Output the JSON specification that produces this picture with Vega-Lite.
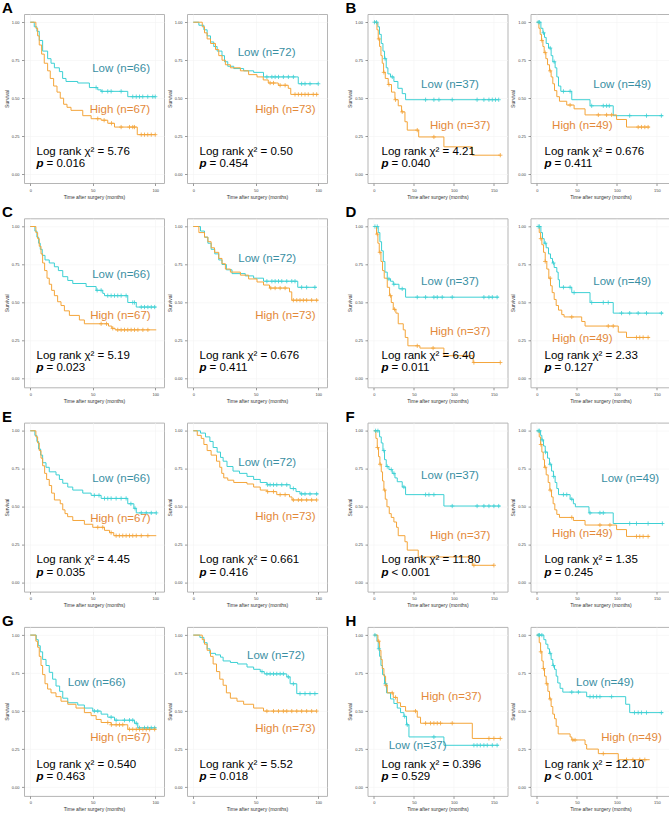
{
"$schema":"https://vega.github.io/schema/vega-lite/v6.json",
"padding":{"left":1,"top":0,"right":0,"bottom":0},
"config":{
 "view":{"stroke":"#b5b5b5","strokeWidth":1},
 "axis":{"domain":false,"tickColor":"#555","tickSize":2.5,"tickWidth":0.6,"labelFontSize":4,"labelColor":"#444","labelFont":"Liberation Sans","titleFont":"Liberation Sans","titleFontSize":5,"titleFontWeight":"normal","titleColor":"#333","labelPadding":2.5,"titlePadding":2,"grid":true,"gridColor":"#f3f3f3","gridWidth":0.6,"labelOverlap":false,"labelFlush":false},
 "text":{"font":"Liberation Sans","fontSize":11.5,"align":"left","baseline":"middle","color":"#000"},
 "title":{"font":"Liberation Sans","fontSize":15,"fontWeight":"bold","anchor":"start","frame":"group","dx":-22,"offset":-2,"baseline":"alphabetic","color":"#000"}
},
"datasets":{
"one":[{"k":1}],
"km":[
{"p":"A1","g":"L","t":0,"s":1},{"p":"A1","g":"L","t":3.2,"s":0.97},{"p":"A1","g":"L","t":5.3,"s":0.94},{"p":"A1","g":"L","t":7.2,"s":0.88},{"p":"A1","g":"L","t":9.9,"s":0.81},{"p":"A1","g":"L","t":13.9,"s":0.76},{"p":"A1","g":"L","t":16.6,"s":0.73},{"p":"A1","g":"L","t":19.3,"s":0.70},{"p":"A1","g":"L","t":23.3,"s":0.675},{"p":"A1","g":"L","t":25.9,"s":0.63},{"p":"A1","g":"L","t":28.6,"s":0.61},{"p":"A1","g":"L","t":38,"s":0.60},{"p":"A1","g":"L","t":47.3,"s":0.57},{"p":"A1","g":"L","t":54,"s":0.555},{"p":"A1","g":"L","t":56.7,"s":0.545},{"p":"A1","g":"L","t":78,"s":0.51},{"p":"A1","g":"L","t":100,"s":0.51},
{"p":"A1","g":"H","t":0,"s":1},{"p":"A1","g":"H","t":4.5,"s":0.96},{"p":"A1","g":"H","t":5.9,"s":0.91},{"p":"A1","g":"H","t":7.2,"s":0.85},{"p":"A1","g":"H","t":9.1,"s":0.79},{"p":"A1","g":"H","t":11.2,"s":0.73},{"p":"A1","g":"H","t":13.9,"s":0.68},{"p":"A1","g":"H","t":16,"s":0.63},{"p":"A1","g":"H","t":18.7,"s":0.58},{"p":"A1","g":"H","t":21.4,"s":0.54},{"p":"A1","g":"H","t":24,"s":0.50},{"p":"A1","g":"H","t":26.7,"s":0.46},{"p":"A1","g":"H","t":29.4,"s":0.44},{"p":"A1","g":"H","t":32.6,"s":0.42},{"p":"A1","g":"H","t":42,"s":0.385},{"p":"A1","g":"H","t":48.7,"s":0.365},{"p":"A1","g":"H","t":56.7,"s":0.355},{"p":"A1","g":"H","t":62,"s":0.335},{"p":"A1","g":"H","t":67.4,"s":0.31},{"p":"A1","g":"H","t":85.6,"s":0.26},{"p":"A1","g":"H","t":100,"s":0.26},
{"p":"A2","g":"L","t":0,"s":1},{"p":"A2","g":"L","t":4.5,"s":0.98},{"p":"A2","g":"L","t":8.5,"s":0.95},{"p":"A2","g":"L","t":11.1,"s":0.91},{"p":"A2","g":"L","t":13.8,"s":0.87},{"p":"A2","g":"L","t":16.4,"s":0.84},{"p":"A2","g":"L","t":19.1,"s":0.81},{"p":"A2","g":"L","t":23,"s":0.78},{"p":"A2","g":"L","t":25,"s":0.74},{"p":"A2","g":"L","t":27.6,"s":0.71},{"p":"A2","g":"L","t":32.4,"s":0.695},{"p":"A2","g":"L","t":40.3,"s":0.68},{"p":"A2","g":"L","t":48.3,"s":0.67},{"p":"A2","g":"L","t":56.2,"s":0.64},{"p":"A2","g":"L","t":84,"s":0.595},{"p":"A2","g":"L","t":100,"s":0.595},
{"p":"A2","g":"H","t":0,"s":1},{"p":"A2","g":"H","t":7.2,"s":0.97},{"p":"A2","g":"H","t":9,"s":0.93},{"p":"A2","g":"H","t":11.1,"s":0.89},{"p":"A2","g":"H","t":13.8,"s":0.86},{"p":"A2","g":"H","t":17.8,"s":0.82},{"p":"A2","g":"H","t":20.4,"s":0.78},{"p":"A2","g":"H","t":23,"s":0.75},{"p":"A2","g":"H","t":25.7,"s":0.72},{"p":"A2","g":"H","t":29.7,"s":0.70},{"p":"A2","g":"H","t":37.7,"s":0.68},{"p":"A2","g":"H","t":44.3,"s":0.655},{"p":"A2","g":"H","t":51,"s":0.64},{"p":"A2","g":"H","t":56,"s":0.62},{"p":"A2","g":"H","t":60,"s":0.60},{"p":"A2","g":"H","t":68,"s":0.585},{"p":"A2","g":"H","t":76,"s":0.565},{"p":"A2","g":"H","t":78,"s":0.525},{"p":"A2","g":"H","t":100,"s":0.525},
{"p":"B1","g":"L","t":0,"s":1},{"p":"B1","g":"L","t":5,"s":0.97},{"p":"B1","g":"L","t":7,"s":0.92},{"p":"B1","g":"L","t":9.2,"s":0.86},{"p":"B1","g":"L","t":11.3,"s":0.81},{"p":"B1","g":"L","t":13.3,"s":0.76},{"p":"B1","g":"L","t":15.4,"s":0.70},{"p":"B1","g":"L","t":17.5,"s":0.66},{"p":"B1","g":"L","t":20.8,"s":0.64},{"p":"B1","g":"L","t":25,"s":0.61},{"p":"B1","g":"L","t":30,"s":0.565},{"p":"B1","g":"L","t":35.4,"s":0.53},{"p":"B1","g":"L","t":39.6,"s":0.49},{"p":"B1","g":"L","t":156,"s":0.49},
{"p":"B1","g":"H","t":0,"s":1},{"p":"B1","g":"H","t":3.8,"s":0.95},{"p":"B1","g":"H","t":5.4,"s":0.89},{"p":"B1","g":"H","t":7.1,"s":0.84},{"p":"B1","g":"H","t":8.8,"s":0.78},{"p":"B1","g":"H","t":10.4,"s":0.73},{"p":"B1","g":"H","t":12.1,"s":0.67},{"p":"B1","g":"H","t":14.2,"s":0.63},{"p":"B1","g":"H","t":17.9,"s":0.59},{"p":"B1","g":"H","t":22,"s":0.54},{"p":"B1","g":"H","t":26.3,"s":0.49},{"p":"B1","g":"H","t":30.4,"s":0.45},{"p":"B1","g":"H","t":34.6,"s":0.41},{"p":"B1","g":"H","t":38.8,"s":0.345},{"p":"B1","g":"H","t":41.7,"s":0.29},{"p":"B1","g":"H","t":56,"s":0.245},{"p":"B1","g":"H","t":87.5,"s":0.18},{"p":"B1","g":"H","t":123,"s":0.125},{"p":"B1","g":"H","t":158,"s":0.125},
{"p":"B2","g":"L","t":0,"s":1},{"p":"B2","g":"L","t":5,"s":0.96},{"p":"B2","g":"L","t":7.5,"s":0.93},{"p":"B2","g":"L","t":9.5,"s":0.90},{"p":"B2","g":"L","t":11.6,"s":0.86},{"p":"B2","g":"L","t":14.5,"s":0.83},{"p":"B2","g":"L","t":17.8,"s":0.78},{"p":"B2","g":"L","t":19.9,"s":0.74},{"p":"B2","g":"L","t":22.8,"s":0.70},{"p":"B2","g":"L","t":24.9,"s":0.64},{"p":"B2","g":"L","t":27,"s":0.58},{"p":"B2","g":"L","t":29.9,"s":0.545},{"p":"B2","g":"L","t":43.6,"s":0.49},{"p":"B2","g":"L","t":66.4,"s":0.45},{"p":"B2","g":"L","t":95.4,"s":0.385},{"p":"B2","g":"L","t":157.7,"s":0.385},
{"p":"B2","g":"H","t":0,"s":1},{"p":"B2","g":"H","t":2.5,"s":0.96},{"p":"B2","g":"H","t":4.1,"s":0.92},{"p":"B2","g":"H","t":5.8,"s":0.88},{"p":"B2","g":"H","t":7.5,"s":0.84},{"p":"B2","g":"H","t":9.1,"s":0.80},{"p":"B2","g":"H","t":11.2,"s":0.76},{"p":"B2","g":"H","t":13.3,"s":0.72},{"p":"B2","g":"H","t":15.8,"s":0.68},{"p":"B2","g":"H","t":17.8,"s":0.64},{"p":"B2","g":"H","t":19.9,"s":0.595},{"p":"B2","g":"H","t":22,"s":0.55},{"p":"B2","g":"H","t":24.9,"s":0.51},{"p":"B2","g":"H","t":28.2,"s":0.48},{"p":"B2","g":"H","t":37.3,"s":0.455},{"p":"B2","g":"H","t":46.5,"s":0.43},{"p":"B2","g":"H","t":60.2,"s":0.39},{"p":"B2","g":"H","t":99.6,"s":0.36},{"p":"B2","g":"H","t":112,"s":0.31},{"p":"B2","g":"H","t":141,"s":0.31},
{"p":"C1","g":"L","t":0,"s":1},{"p":"C1","g":"L","t":3.7,"s":0.97},{"p":"C1","g":"L","t":5.3,"s":0.93},{"p":"C1","g":"L","t":6.7,"s":0.89},{"p":"C1","g":"L","t":8,"s":0.85},{"p":"C1","g":"L","t":9.6,"s":0.81},{"p":"C1","g":"L","t":11.8,"s":0.78},{"p":"C1","g":"L","t":15.2,"s":0.76},{"p":"C1","g":"L","t":19.3,"s":0.735},{"p":"C1","g":"L","t":22.5,"s":0.71},{"p":"C1","g":"L","t":26,"s":0.67},{"p":"C1","g":"L","t":30,"s":0.645},{"p":"C1","g":"L","t":34,"s":0.625},{"p":"C1","g":"L","t":44.7,"s":0.605},{"p":"C1","g":"L","t":52.7,"s":0.58},{"p":"C1","g":"L","t":58,"s":0.56},{"p":"C1","g":"L","t":59.4,"s":0.545},{"p":"C1","g":"L","t":78,"s":0.50},{"p":"C1","g":"L","t":84.8,"s":0.47},{"p":"C1","g":"L","t":100.8,"s":0.47},
{"p":"C1","g":"H","t":0,"s":1},{"p":"C1","g":"H","t":4.5,"s":0.96},{"p":"C1","g":"H","t":5.9,"s":0.92},{"p":"C1","g":"H","t":7.2,"s":0.87},{"p":"C1","g":"H","t":8.6,"s":0.82},{"p":"C1","g":"H","t":9.9,"s":0.76},{"p":"C1","g":"H","t":11.5,"s":0.71},{"p":"C1","g":"H","t":13.4,"s":0.66},{"p":"C1","g":"H","t":15.2,"s":0.62},{"p":"C1","g":"H","t":17.1,"s":0.58},{"p":"C1","g":"H","t":19.3,"s":0.545},{"p":"C1","g":"H","t":21.9,"s":0.505},{"p":"C1","g":"H","t":24.6,"s":0.48},{"p":"C1","g":"H","t":27.3,"s":0.445},{"p":"C1","g":"H","t":31.3,"s":0.415},{"p":"C1","g":"H","t":39.3,"s":0.385},{"p":"C1","g":"H","t":43.3,"s":0.36},{"p":"C1","g":"H","t":62.6,"s":0.345},{"p":"C1","g":"H","t":65.2,"s":0.33},{"p":"C1","g":"H","t":67.9,"s":0.32},{"p":"C1","g":"H","t":100.8,"s":0.32},
{"p":"C2","g":"L","t":0,"s":1},{"p":"C2","g":"L","t":5.8,"s":0.97},{"p":"C2","g":"L","t":9,"s":0.93},{"p":"C2","g":"L","t":11.7,"s":0.89},{"p":"C2","g":"L","t":14.3,"s":0.85},{"p":"C2","g":"L","t":17.2,"s":0.82},{"p":"C2","g":"L","t":20.4,"s":0.78},{"p":"C2","g":"L","t":23,"s":0.75},{"p":"C2","g":"L","t":26.5,"s":0.715},{"p":"C2","g":"L","t":31,"s":0.69},{"p":"C2","g":"L","t":41.6,"s":0.675},{"p":"C2","g":"L","t":48.3,"s":0.66},{"p":"C2","g":"L","t":56.2,"s":0.64},{"p":"C2","g":"L","t":83.6,"s":0.60},{"p":"C2","g":"L","t":98.7,"s":0.60},
{"p":"C2","g":"H","t":0,"s":1},{"p":"C2","g":"H","t":4.5,"s":0.96},{"p":"C2","g":"H","t":9,"s":0.93},{"p":"C2","g":"H","t":11.7,"s":0.90},{"p":"C2","g":"H","t":14.3,"s":0.86},{"p":"C2","g":"H","t":17,"s":0.83},{"p":"C2","g":"H","t":20.4,"s":0.79},{"p":"C2","g":"H","t":23,"s":0.755},{"p":"C2","g":"H","t":25.7,"s":0.72},{"p":"C2","g":"H","t":29.7,"s":0.70},{"p":"C2","g":"H","t":37.7,"s":0.68},{"p":"C2","g":"H","t":44.3,"s":0.655},{"p":"C2","g":"H","t":51,"s":0.635},{"p":"C2","g":"H","t":56.2,"s":0.615},{"p":"C2","g":"H","t":61,"s":0.595},{"p":"C2","g":"H","t":77,"s":0.57},{"p":"C2","g":"H","t":78.8,"s":0.515},{"p":"C2","g":"H","t":100,"s":0.515},
{"p":"D1","g":"L","t":0,"s":1},{"p":"D1","g":"L","t":5.4,"s":0.96},{"p":"D1","g":"L","t":7.5,"s":0.90},{"p":"D1","g":"L","t":9.6,"s":0.84},{"p":"D1","g":"L","t":11.7,"s":0.77},{"p":"D1","g":"L","t":13.8,"s":0.70},{"p":"D1","g":"L","t":16.7,"s":0.655},{"p":"D1","g":"L","t":20.8,"s":0.64},{"p":"D1","g":"L","t":24.2,"s":0.62},{"p":"D1","g":"L","t":31.3,"s":0.59},{"p":"D1","g":"L","t":39.6,"s":0.535},{"p":"D1","g":"L","t":156,"s":0.535},
{"p":"D1","g":"H","t":0,"s":1},{"p":"D1","g":"H","t":3.3,"s":0.95},{"p":"D1","g":"H","t":5,"s":0.89},{"p":"D1","g":"H","t":6.7,"s":0.83},{"p":"D1","g":"H","t":8.8,"s":0.77},{"p":"D1","g":"H","t":10.8,"s":0.71},{"p":"D1","g":"H","t":12.9,"s":0.66},{"p":"D1","g":"H","t":16.7,"s":0.60},{"p":"D1","g":"H","t":19.6,"s":0.545},{"p":"D1","g":"H","t":21.7,"s":0.50},{"p":"D1","g":"H","t":24.2,"s":0.455},{"p":"D1","g":"H","t":27.5,"s":0.43},{"p":"D1","g":"H","t":30.4,"s":0.36},{"p":"D1","g":"H","t":36.7,"s":0.32},{"p":"D1","g":"H","t":39.2,"s":0.27},{"p":"D1","g":"H","t":42.5,"s":0.215},{"p":"D1","g":"H","t":57.5,"s":0.20},{"p":"D1","g":"H","t":87.5,"s":0.15},{"p":"D1","g":"H","t":124,"s":0.105},{"p":"D1","g":"H","t":158,"s":0.105},
{"p":"D2","g":"L","t":0,"s":1},{"p":"D2","g":"L","t":5,"s":0.96},{"p":"D2","g":"L","t":7,"s":0.92},{"p":"D2","g":"L","t":9.1,"s":0.89},{"p":"D2","g":"L","t":11.6,"s":0.86},{"p":"D2","g":"L","t":14.5,"s":0.82},{"p":"D2","g":"L","t":17,"s":0.79},{"p":"D2","g":"L","t":19.5,"s":0.76},{"p":"D2","g":"L","t":21.6,"s":0.73},{"p":"D2","g":"L","t":24.9,"s":0.70},{"p":"D2","g":"L","t":26.6,"s":0.65},{"p":"D2","g":"L","t":28.2,"s":0.60},{"p":"D2","g":"L","t":43.6,"s":0.565},{"p":"D2","g":"L","t":66.4,"s":0.50},{"p":"D2","g":"L","t":95.4,"s":0.43},{"p":"D2","g":"L","t":157.7,"s":0.43},
{"p":"D2","g":"H","t":0,"s":1},{"p":"D2","g":"H","t":2.9,"s":0.96},{"p":"D2","g":"H","t":4.6,"s":0.92},{"p":"D2","g":"H","t":6.2,"s":0.88},{"p":"D2","g":"H","t":8.3,"s":0.83},{"p":"D2","g":"H","t":10.4,"s":0.77},{"p":"D2","g":"H","t":12.4,"s":0.72},{"p":"D2","g":"H","t":14.9,"s":0.66},{"p":"D2","g":"H","t":17,"s":0.61},{"p":"D2","g":"H","t":19.1,"s":0.565},{"p":"D2","g":"H","t":21.6,"s":0.52},{"p":"D2","g":"H","t":24.1,"s":0.48},{"p":"D2","g":"H","t":27,"s":0.45},{"p":"D2","g":"H","t":31.1,"s":0.42},{"p":"D2","g":"H","t":34,"s":0.405},{"p":"D2","g":"H","t":56,"s":0.375},{"p":"D2","g":"H","t":60.2,"s":0.345},{"p":"D2","g":"H","t":101.7,"s":0.305},{"p":"D2","g":"H","t":112,"s":0.27},{"p":"D2","g":"H","t":141,"s":0.27},
{"p":"E1","g":"L","t":0,"s":1},{"p":"E1","g":"L","t":3.7,"s":0.97},{"p":"E1","g":"L","t":5.3,"s":0.93},{"p":"E1","g":"L","t":6.7,"s":0.88},{"p":"E1","g":"L","t":8.3,"s":0.84},{"p":"E1","g":"L","t":9.9,"s":0.79},{"p":"E1","g":"L","t":12.6,"s":0.76},{"p":"E1","g":"L","t":15.2,"s":0.73},{"p":"E1","g":"L","t":20.6,"s":0.71},{"p":"E1","g":"L","t":23.3,"s":0.68},{"p":"E1","g":"L","t":26,"s":0.655},{"p":"E1","g":"L","t":30,"s":0.63},{"p":"E1","g":"L","t":34,"s":0.61},{"p":"E1","g":"L","t":42,"s":0.59},{"p":"E1","g":"L","t":48.7,"s":0.575},{"p":"E1","g":"L","t":56.7,"s":0.555},{"p":"E1","g":"L","t":78,"s":0.52},{"p":"E1","g":"L","t":82.9,"s":0.49},{"p":"E1","g":"L","t":84.8,"s":0.46},{"p":"E1","g":"L","t":100.8,"s":0.46},
{"p":"E1","g":"H","t":0,"s":1},{"p":"E1","g":"H","t":4.5,"s":0.96},{"p":"E1","g":"H","t":5.9,"s":0.92},{"p":"E1","g":"H","t":7.2,"s":0.87},{"p":"E1","g":"H","t":8.6,"s":0.82},{"p":"E1","g":"H","t":9.9,"s":0.77},{"p":"E1","g":"H","t":11.5,"s":0.72},{"p":"E1","g":"H","t":13.1,"s":0.68},{"p":"E1","g":"H","t":15.2,"s":0.64},{"p":"E1","g":"H","t":17.1,"s":0.59},{"p":"E1","g":"H","t":19.3,"s":0.545},{"p":"E1","g":"H","t":24,"s":0.52},{"p":"E1","g":"H","t":26,"s":0.48},{"p":"E1","g":"H","t":27.8,"s":0.455},{"p":"E1","g":"H","t":29.9,"s":0.435},{"p":"E1","g":"H","t":34,"s":0.41},{"p":"E1","g":"H","t":43.3,"s":0.385},{"p":"E1","g":"H","t":50,"s":0.365},{"p":"E1","g":"H","t":59.4,"s":0.345},{"p":"E1","g":"H","t":63.4,"s":0.33},{"p":"E1","g":"H","t":66.8,"s":0.31},{"p":"E1","g":"H","t":100.8,"s":0.31},
{"p":"E2","g":"L","t":0,"s":1},{"p":"E2","g":"L","t":5.8,"s":0.985},{"p":"E2","g":"L","t":9.8,"s":0.96},{"p":"E2","g":"L","t":13.3,"s":0.93},{"p":"E2","g":"L","t":15.9,"s":0.89},{"p":"E2","g":"L","t":19.1,"s":0.86},{"p":"E2","g":"L","t":21.8,"s":0.825},{"p":"E2","g":"L","t":23.9,"s":0.80},{"p":"E2","g":"L","t":27,"s":0.765},{"p":"E2","g":"L","t":31.8,"s":0.735},{"p":"E2","g":"L","t":37,"s":0.72},{"p":"E2","g":"L","t":43,"s":0.70},{"p":"E2","g":"L","t":48.3,"s":0.68},{"p":"E2","g":"L","t":53.6,"s":0.66},{"p":"E2","g":"L","t":58.9,"s":0.645},{"p":"E2","g":"L","t":77.5,"s":0.62},{"p":"E2","g":"L","t":82.2,"s":0.60},{"p":"E2","g":"L","t":85.4,"s":0.585},{"p":"E2","g":"L","t":100,"s":0.585},
{"p":"E2","g":"H","t":0,"s":1},{"p":"E2","g":"H","t":3.2,"s":0.97},{"p":"E2","g":"H","t":6.4,"s":0.95},{"p":"E2","g":"H","t":8.5,"s":0.91},{"p":"E2","g":"H","t":11.1,"s":0.87},{"p":"E2","g":"H","t":14.3,"s":0.84},{"p":"E2","g":"H","t":18.6,"s":0.80},{"p":"E2","g":"H","t":21.2,"s":0.76},{"p":"E2","g":"H","t":22.8,"s":0.72},{"p":"E2","g":"H","t":24.4,"s":0.69},{"p":"E2","g":"H","t":27.6,"s":0.675},{"p":"E2","g":"H","t":32.4,"s":0.66},{"p":"E2","g":"H","t":43,"s":0.65},{"p":"E2","g":"H","t":48.3,"s":0.63},{"p":"E2","g":"H","t":53.6,"s":0.61},{"p":"E2","g":"H","t":58.9,"s":0.60},{"p":"E2","g":"H","t":66.8,"s":0.58},{"p":"E2","g":"H","t":77,"s":0.565},{"p":"E2","g":"H","t":79,"s":0.545},{"p":"E2","g":"H","t":98.7,"s":0.545},
{"p":"F1","g":"L","t":0,"s":1},{"p":"F1","g":"L","t":7.1,"s":0.96},{"p":"F1","g":"L","t":9.2,"s":0.92},{"p":"F1","g":"L","t":11.3,"s":0.87},{"p":"F1","g":"L","t":13.3,"s":0.81},{"p":"F1","g":"L","t":15.4,"s":0.765},{"p":"F1","g":"L","t":18.8,"s":0.745},{"p":"F1","g":"L","t":22.9,"s":0.72},{"p":"F1","g":"L","t":26.3,"s":0.69},{"p":"F1","g":"L","t":29.2,"s":0.665},{"p":"F1","g":"L","t":35.4,"s":0.63},{"p":"F1","g":"L","t":39.6,"s":0.58},{"p":"F1","g":"L","t":87.5,"s":0.505},{"p":"F1","g":"L","t":158,"s":0.505},
{"p":"F1","g":"H","t":0,"s":1},{"p":"F1","g":"H","t":2.5,"s":0.95},{"p":"F1","g":"H","t":4.2,"s":0.89},{"p":"F1","g":"H","t":5.8,"s":0.83},{"p":"F1","g":"H","t":7.5,"s":0.78},{"p":"F1","g":"H","t":9.2,"s":0.73},{"p":"F1","g":"H","t":10.8,"s":0.67},{"p":"F1","g":"H","t":12.5,"s":0.61},{"p":"F1","g":"H","t":14.2,"s":0.55},{"p":"F1","g":"H","t":16.3,"s":0.50},{"p":"F1","g":"H","t":19.2,"s":0.455},{"p":"F1","g":"H","t":21.7,"s":0.43},{"p":"F1","g":"H","t":25,"s":0.40},{"p":"F1","g":"H","t":28.3,"s":0.365},{"p":"F1","g":"H","t":30.4,"s":0.31},{"p":"F1","g":"H","t":38.8,"s":0.27},{"p":"F1","g":"H","t":41.7,"s":0.215},{"p":"F1","g":"H","t":55.4,"s":0.17},{"p":"F1","g":"H","t":123,"s":0.115},{"p":"F1","g":"H","t":150,"s":0.115},
{"p":"F2","g":"L","t":0,"s":1},{"p":"F2","g":"L","t":4.6,"s":0.97},{"p":"F2","g":"L","t":6.2,"s":0.94},{"p":"F2","g":"L","t":8.3,"s":0.90},{"p":"F2","g":"L","t":10.4,"s":0.86},{"p":"F2","g":"L","t":13.3,"s":0.82},{"p":"F2","g":"L","t":15.8,"s":0.78},{"p":"F2","g":"L","t":18.3,"s":0.735},{"p":"F2","g":"L","t":20.7,"s":0.70},{"p":"F2","g":"L","t":22.8,"s":0.66},{"p":"F2","g":"L","t":24.9,"s":0.62},{"p":"F2","g":"L","t":27,"s":0.58},{"p":"F2","g":"L","t":41.5,"s":0.55},{"p":"F2","g":"L","t":45.6,"s":0.52},{"p":"F2","g":"L","t":48.1,"s":0.50},{"p":"F2","g":"L","t":65.1,"s":0.46},{"p":"F2","g":"L","t":95.4,"s":0.39},{"p":"F2","g":"L","t":157.7,"s":0.39},
{"p":"F2","g":"H","t":0,"s":1},{"p":"F2","g":"H","t":2.9,"s":0.96},{"p":"F2","g":"H","t":4.6,"s":0.91},{"p":"F2","g":"H","t":6.2,"s":0.86},{"p":"F2","g":"H","t":7.9,"s":0.81},{"p":"F2","g":"H","t":9.5,"s":0.76},{"p":"F2","g":"H","t":11.6,"s":0.71},{"p":"F2","g":"H","t":14.1,"s":0.66},{"p":"F2","g":"H","t":16.2,"s":0.61},{"p":"F2","g":"H","t":18.3,"s":0.565},{"p":"F2","g":"H","t":20.3,"s":0.52},{"p":"F2","g":"H","t":22.4,"s":0.48},{"p":"F2","g":"H","t":24.9,"s":0.45},{"p":"F2","g":"H","t":28.2,"s":0.43},{"p":"F2","g":"H","t":45.6,"s":0.41},{"p":"F2","g":"H","t":60.2,"s":0.38},{"p":"F2","g":"H","t":99.6,"s":0.35},{"p":"F2","g":"H","t":112,"s":0.305},{"p":"F2","g":"H","t":141,"s":0.305},
{"p":"G1","g":"L","t":0,"s":1},{"p":"G1","g":"L","t":4.8,"s":0.97},{"p":"G1","g":"L","t":6.4,"s":0.93},{"p":"G1","g":"L","t":8,"s":0.89},{"p":"G1","g":"L","t":9.9,"s":0.84},{"p":"G1","g":"L","t":12.6,"s":0.80},{"p":"G1","g":"L","t":15.2,"s":0.755},{"p":"G1","g":"L","t":17.9,"s":0.71},{"p":"G1","g":"L","t":20.6,"s":0.665},{"p":"G1","g":"L","t":23.5,"s":0.63},{"p":"G1","g":"L","t":26,"s":0.585},{"p":"G1","g":"L","t":30,"s":0.555},{"p":"G1","g":"L","t":38,"s":0.54},{"p":"G1","g":"L","t":43.3,"s":0.52},{"p":"G1","g":"L","t":50,"s":0.50},{"p":"G1","g":"L","t":56.7,"s":0.48},{"p":"G1","g":"L","t":62,"s":0.46},{"p":"G1","g":"L","t":67.4,"s":0.44},{"p":"G1","g":"L","t":83.4,"s":0.42},{"p":"G1","g":"L","t":86,"s":0.39},{"p":"G1","g":"L","t":100.8,"s":0.39},
{"p":"G1","g":"H","t":0,"s":1},{"p":"G1","g":"H","t":4.5,"s":0.96},{"p":"G1","g":"H","t":5.9,"s":0.92},{"p":"G1","g":"H","t":7.2,"s":0.86},{"p":"G1","g":"H","t":8.6,"s":0.80},{"p":"G1","g":"H","t":9.9,"s":0.74},{"p":"G1","g":"H","t":11.8,"s":0.68},{"p":"G1","g":"H","t":13.9,"s":0.645},{"p":"G1","g":"H","t":16.6,"s":0.62},{"p":"G1","g":"H","t":20.6,"s":0.595},{"p":"G1","g":"H","t":24.6,"s":0.565},{"p":"G1","g":"H","t":30,"s":0.545},{"p":"G1","g":"H","t":36.6,"s":0.52},{"p":"G1","g":"H","t":43.3,"s":0.49},{"p":"G1","g":"H","t":48.7,"s":0.47},{"p":"G1","g":"H","t":52.7,"s":0.445},{"p":"G1","g":"H","t":56.7,"s":0.425},{"p":"G1","g":"H","t":64.7,"s":0.41},{"p":"G1","g":"H","t":78,"s":0.38},{"p":"G1","g":"H","t":100.8,"s":0.38},
{"p":"G2","g":"L","t":0,"s":1},{"p":"G2","g":"L","t":5.3,"s":0.985},{"p":"G2","g":"L","t":8.5,"s":0.95},{"p":"G2","g":"L","t":11.1,"s":0.91},{"p":"G2","g":"L","t":13.3,"s":0.88},{"p":"G2","g":"L","t":17.8,"s":0.87},{"p":"G2","g":"L","t":21.8,"s":0.855},{"p":"G2","g":"L","t":23.9,"s":0.83},{"p":"G2","g":"L","t":29.7,"s":0.82},{"p":"G2","g":"L","t":35.5,"s":0.81},{"p":"G2","g":"L","t":43,"s":0.79},{"p":"G2","g":"L","t":48.3,"s":0.775},{"p":"G2","g":"L","t":53.6,"s":0.76},{"p":"G2","g":"L","t":56.8,"s":0.745},{"p":"G2","g":"L","t":74.8,"s":0.725},{"p":"G2","g":"L","t":77.5,"s":0.68},{"p":"G2","g":"L","t":82.8,"s":0.615},{"p":"G2","g":"L","t":100,"s":0.615},
{"p":"G2","g":"H","t":0,"s":1},{"p":"G2","g":"H","t":7.2,"s":0.97},{"p":"G2","g":"H","t":9,"s":0.94},{"p":"G2","g":"H","t":11.1,"s":0.90},{"p":"G2","g":"H","t":13.8,"s":0.86},{"p":"G2","g":"H","t":15.9,"s":0.81},{"p":"G2","g":"H","t":18.6,"s":0.76},{"p":"G2","g":"H","t":21.2,"s":0.71},{"p":"G2","g":"H","t":23.9,"s":0.67},{"p":"G2","g":"H","t":26.5,"s":0.62},{"p":"G2","g":"H","t":29.7,"s":0.585},{"p":"G2","g":"H","t":35,"s":0.565},{"p":"G2","g":"H","t":40.3,"s":0.545},{"p":"G2","g":"H","t":48.3,"s":0.52},{"p":"G2","g":"H","t":56.2,"s":0.50},{"p":"G2","g":"H","t":98.7,"s":0.50},
{"p":"H1","g":"L","t":0,"s":1},{"p":"H1","g":"L","t":3.8,"s":0.96},{"p":"H1","g":"L","t":5.4,"s":0.91},{"p":"H1","g":"L","t":7.1,"s":0.86},{"p":"H1","g":"L","t":8.8,"s":0.80},{"p":"H1","g":"L","t":10.8,"s":0.74},{"p":"H1","g":"L","t":13.3,"s":0.68},{"p":"H1","g":"L","t":15.8,"s":0.62},{"p":"H1","g":"L","t":20.8,"s":0.58},{"p":"H1","g":"L","t":25,"s":0.55},{"p":"H1","g":"L","t":29.2,"s":0.52},{"p":"H1","g":"L","t":33.3,"s":0.49},{"p":"H1","g":"L","t":37.5,"s":0.465},{"p":"H1","g":"L","t":40.8,"s":0.41},{"p":"H1","g":"L","t":43.8,"s":0.33},{"p":"H1","g":"L","t":87.5,"s":0.275},{"p":"H1","g":"L","t":156,"s":0.275},
{"p":"H1","g":"H","t":0,"s":1},{"p":"H1","g":"H","t":5,"s":0.96},{"p":"H1","g":"H","t":7.1,"s":0.90},{"p":"H1","g":"H","t":8.8,"s":0.84},{"p":"H1","g":"H","t":10.4,"s":0.78},{"p":"H1","g":"H","t":12.5,"s":0.73},{"p":"H1","g":"H","t":14.6,"s":0.67},{"p":"H1","g":"H","t":16.7,"s":0.62},{"p":"H1","g":"H","t":24.2,"s":0.59},{"p":"H1","g":"H","t":29.2,"s":0.555},{"p":"H1","g":"H","t":33.3,"s":0.53},{"p":"H1","g":"H","t":39.6,"s":0.50},{"p":"H1","g":"H","t":54.2,"s":0.46},{"p":"H1","g":"H","t":58.3,"s":0.42},{"p":"H1","g":"H","t":123,"s":0.32},{"p":"H1","g":"H","t":158,"s":0.32},
{"p":"H2","g":"L","t":0,"s":1},{"p":"H2","g":"L","t":8.7,"s":0.97},{"p":"H2","g":"L","t":11.2,"s":0.94},{"p":"H2","g":"L","t":13.7,"s":0.91},{"p":"H2","g":"L","t":15.8,"s":0.88},{"p":"H2","g":"L","t":17.8,"s":0.84},{"p":"H2","g":"L","t":19.9,"s":0.80},{"p":"H2","g":"L","t":22,"s":0.775},{"p":"H2","g":"L","t":24.1,"s":0.73},{"p":"H2","g":"L","t":26.1,"s":0.685},{"p":"H2","g":"L","t":29,"s":0.65},{"p":"H2","g":"L","t":32.4,"s":0.625},{"p":"H2","g":"L","t":62.2,"s":0.595},{"p":"H2","g":"L","t":111,"s":0.545},{"p":"H2","g":"L","t":116,"s":0.49},{"p":"H2","g":"L","t":157.7,"s":0.49},
{"p":"H2","g":"H","t":0,"s":1},{"p":"H2","g":"H","t":2.9,"s":0.95},{"p":"H2","g":"H","t":4.6,"s":0.89},{"p":"H2","g":"H","t":6.2,"s":0.83},{"p":"H2","g":"H","t":7.9,"s":0.78},{"p":"H2","g":"H","t":9.5,"s":0.73},{"p":"H2","g":"H","t":11.6,"s":0.68},{"p":"H2","g":"H","t":13.7,"s":0.63},{"p":"H2","g":"H","t":15.8,"s":0.58},{"p":"H2","g":"H","t":17.8,"s":0.53},{"p":"H2","g":"H","t":19.9,"s":0.48},{"p":"H2","g":"H","t":22,"s":0.45},{"p":"H2","g":"H","t":24.1,"s":0.40},{"p":"H2","g":"H","t":26.6,"s":0.35},{"p":"H2","g":"H","t":41.5,"s":0.33},{"p":"H2","g":"H","t":43.6,"s":0.31},{"p":"H2","g":"H","t":60.2,"s":0.28},{"p":"H2","g":"H","t":62.2,"s":0.25},{"p":"H2","g":"H","t":76.8,"s":0.22},{"p":"H2","g":"H","t":101.7,"s":0.18},{"p":"H2","g":"H","t":141,"s":0.18}
],
"cens":[
{"p":"A1","g":"L","t":52.7,"s":0.57},{"p":"A1","g":"L","t":57.5,"s":0.545},{"p":"A1","g":"L","t":62,"s":0.545},{"p":"A1","g":"L","t":64.7,"s":0.545},{"p":"A1","g":"L","t":72.7,"s":0.545},{"p":"A1","g":"L","t":82,"s":0.51},{"p":"A1","g":"L","t":84.8,"s":0.51},{"p":"A1","g":"L","t":87.4,"s":0.51},{"p":"A1","g":"L","t":90,"s":0.51},{"p":"A1","g":"L","t":94,"s":0.51},{"p":"A1","g":"L","t":98,"s":0.51},{"p":"A1","g":"L","t":100,"s":0.51},
{"p":"A1","g":"H","t":54,"s":0.365},{"p":"A1","g":"H","t":59.1,"s":0.355},{"p":"A1","g":"H","t":65,"s":0.335},{"p":"A1","g":"H","t":72.7,"s":0.31},{"p":"A1","g":"H","t":79.4,"s":0.31},{"p":"A1","g":"H","t":82,"s":0.31},{"p":"A1","g":"H","t":83.4,"s":0.31},{"p":"A1","g":"H","t":88.8,"s":0.26},{"p":"A1","g":"H","t":91.4,"s":0.26},{"p":"A1","g":"H","t":94,"s":0.26},{"p":"A1","g":"H","t":96.8,"s":0.26},{"p":"A1","g":"H","t":100,"s":0.26},
{"p":"A2","g":"L","t":58.9,"s":0.64},{"p":"A2","g":"L","t":62.9,"s":0.64},{"p":"A2","g":"L","t":65.5,"s":0.64},{"p":"A2","g":"L","t":68.2,"s":0.64},{"p":"A2","g":"L","t":72.1,"s":0.64},{"p":"A2","g":"L","t":76.1,"s":0.64},{"p":"A2","g":"L","t":80.1,"s":0.64},{"p":"A2","g":"L","t":86.7,"s":0.595},{"p":"A2","g":"L","t":89.4,"s":0.595},{"p":"A2","g":"L","t":93.4,"s":0.595},{"p":"A2","g":"L","t":100,"s":0.595},
{"p":"A2","g":"H","t":61.5,"s":0.60},{"p":"A2","g":"H","t":64.2,"s":0.60},{"p":"A2","g":"H","t":69.5,"s":0.585},{"p":"A2","g":"H","t":73.5,"s":0.585},{"p":"A2","g":"H","t":81.4,"s":0.525},{"p":"A2","g":"H","t":84.1,"s":0.525},{"p":"A2","g":"H","t":86.7,"s":0.525},{"p":"A2","g":"H","t":89.4,"s":0.525},{"p":"A2","g":"H","t":92,"s":0.525},{"p":"A2","g":"H","t":96,"s":0.525},{"p":"A2","g":"H","t":98.7,"s":0.525},
{"p":"B1","g":"L","t":0.8,"s":1},{"p":"B1","g":"L","t":3.3,"s":1},{"p":"B1","g":"L","t":14,"s":0.76},{"p":"B1","g":"L","t":23,"s":0.64},{"p":"B1","g":"L","t":64.6,"s":0.49},{"p":"B1","g":"L","t":75,"s":0.49},{"p":"B1","g":"L","t":81.3,"s":0.49},{"p":"B1","g":"L","t":97.9,"s":0.49},{"p":"B1","g":"L","t":129,"s":0.49},{"p":"B1","g":"L","t":137.5,"s":0.49},{"p":"B1","g":"L","t":143.8,"s":0.49},{"p":"B1","g":"L","t":148,"s":0.49},{"p":"B1","g":"L","t":152,"s":0.49},{"p":"B1","g":"L","t":156,"s":0.49},
{"p":"B1","g":"H","t":6.3,"s":0.89},{"p":"B1","g":"H","t":12.5,"s":0.67},{"p":"B1","g":"H","t":18.8,"s":0.59},{"p":"B1","g":"H","t":27,"s":0.49},{"p":"B1","g":"H","t":35.4,"s":0.41},{"p":"B1","g":"H","t":54.2,"s":0.29},{"p":"B1","g":"H","t":75,"s":0.245},{"p":"B1","g":"H","t":158,"s":0.125},
{"p":"B2","g":"L","t":1.7,"s":1},{"p":"B2","g":"L","t":3.3,"s":1},{"p":"B2","g":"L","t":8.3,"s":0.93},{"p":"B2","g":"L","t":16.6,"s":0.83},{"p":"B2","g":"L","t":21.6,"s":0.74},{"p":"B2","g":"L","t":33.2,"s":0.545},{"p":"B2","g":"L","t":41.5,"s":0.545},{"p":"B2","g":"L","t":68.5,"s":0.45},{"p":"B2","g":"L","t":83,"s":0.45},{"p":"B2","g":"L","t":87.1,"s":0.45},{"p":"B2","g":"L","t":90.5,"s":0.45},{"p":"B2","g":"L","t":116,"s":0.385},{"p":"B2","g":"L","t":137,"s":0.385},{"p":"B2","g":"L","t":155.6,"s":0.385},
{"p":"B2","g":"H","t":6.2,"s":0.88},{"p":"B2","g":"H","t":10.4,"s":0.80},{"p":"B2","g":"H","t":16.6,"s":0.68},{"p":"B2","g":"H","t":41.5,"s":0.455},{"p":"B2","g":"H","t":76.8,"s":0.39},{"p":"B2","g":"H","t":87.1,"s":0.39},{"p":"B2","g":"H","t":93.4,"s":0.39},{"p":"B2","g":"H","t":126.6,"s":0.31},{"p":"B2","g":"H","t":130.7,"s":0.31},{"p":"B2","g":"H","t":134.9,"s":0.31},{"p":"B2","g":"H","t":139,"s":0.31},
{"p":"C1","g":"L","t":53.5,"s":0.58},{"p":"C1","g":"L","t":56.7,"s":0.58},{"p":"C1","g":"L","t":62,"s":0.545},{"p":"C1","g":"L","t":64.7,"s":0.545},{"p":"C1","g":"L","t":67.4,"s":0.545},{"p":"C1","g":"L","t":70,"s":0.545},{"p":"C1","g":"L","t":72.7,"s":0.545},{"p":"C1","g":"L","t":76.7,"s":0.545},{"p":"C1","g":"L","t":82,"s":0.50},{"p":"C1","g":"L","t":83.4,"s":0.50},{"p":"C1","g":"L","t":88.8,"s":0.47},{"p":"C1","g":"L","t":91.4,"s":0.47},{"p":"C1","g":"L","t":94.1,"s":0.47},{"p":"C1","g":"L","t":96.8,"s":0.47},{"p":"C1","g":"L","t":99.5,"s":0.47},
{"p":"C1","g":"H","t":56.7,"s":0.36},{"p":"C1","g":"H","t":61,"s":0.36},{"p":"C1","g":"H","t":66,"s":0.33},{"p":"C1","g":"H","t":70,"s":0.32},{"p":"C1","g":"H","t":72.7,"s":0.32},{"p":"C1","g":"H","t":75.4,"s":0.32},{"p":"C1","g":"H","t":78,"s":0.32},{"p":"C1","g":"H","t":80.7,"s":0.32},{"p":"C1","g":"H","t":83.4,"s":0.32},{"p":"C1","g":"H","t":86.1,"s":0.32},{"p":"C1","g":"H","t":90.1,"s":0.32},{"p":"C1","g":"H","t":94.1,"s":0.32},
{"p":"C2","g":"L","t":58.9,"s":0.64},{"p":"C2","g":"L","t":62.9,"s":0.64},{"p":"C2","g":"L","t":65.5,"s":0.64},{"p":"C2","g":"L","t":68.2,"s":0.64},{"p":"C2","g":"L","t":70.8,"s":0.64},{"p":"C2","g":"L","t":74.8,"s":0.64},{"p":"C2","g":"L","t":78.8,"s":0.64},{"p":"C2","g":"L","t":81.4,"s":0.64},{"p":"C2","g":"L","t":86.7,"s":0.60},{"p":"C2","g":"L","t":90.7,"s":0.60},{"p":"C2","g":"L","t":97.3,"s":0.60},
{"p":"C2","g":"H","t":62,"s":0.595},{"p":"C2","g":"H","t":65.5,"s":0.595},{"p":"C2","g":"H","t":69.5,"s":0.595},{"p":"C2","g":"H","t":73.5,"s":0.595},{"p":"C2","g":"H","t":80.1,"s":0.515},{"p":"C2","g":"H","t":82.8,"s":0.515},{"p":"C2","g":"H","t":85.4,"s":0.515},{"p":"C2","g":"H","t":88.1,"s":0.515},{"p":"C2","g":"H","t":90.7,"s":0.515},{"p":"C2","g":"H","t":94.7,"s":0.515},{"p":"C2","g":"H","t":98.7,"s":0.515},
{"p":"D1","g":"L","t":1.3,"s":1},{"p":"D1","g":"L","t":4.2,"s":1},{"p":"D1","g":"L","t":18.8,"s":0.655},{"p":"D1","g":"L","t":25,"s":0.62},{"p":"D1","g":"L","t":35.4,"s":0.59},{"p":"D1","g":"L","t":54.2,"s":0.535},{"p":"D1","g":"L","t":64.6,"s":0.535},{"p":"D1","g":"L","t":75,"s":0.535},{"p":"D1","g":"L","t":79.2,"s":0.535},{"p":"D1","g":"L","t":85.4,"s":0.535},{"p":"D1","g":"L","t":97.9,"s":0.535},{"p":"D1","g":"L","t":137.5,"s":0.535},{"p":"D1","g":"L","t":143.8,"s":0.535},{"p":"D1","g":"L","t":148,"s":0.535},{"p":"D1","g":"L","t":154,"s":0.535},
{"p":"D1","g":"H","t":4.2,"s":0.95},{"p":"D1","g":"H","t":7.5,"s":0.83},{"p":"D1","g":"H","t":20.8,"s":0.545},{"p":"D1","g":"H","t":25.8,"s":0.455},{"p":"D1","g":"H","t":54.2,"s":0.215},{"p":"D1","g":"H","t":74,"s":0.20},{"p":"D1","g":"H","t":125,"s":0.105},{"p":"D1","g":"H","t":158,"s":0.105},
{"p":"D2","g":"L","t":1.7,"s":1},{"p":"D2","g":"L","t":3.3,"s":1},{"p":"D2","g":"L","t":10.4,"s":0.89},{"p":"D2","g":"L","t":20.7,"s":0.76},{"p":"D2","g":"L","t":33.2,"s":0.60},{"p":"D2","g":"L","t":41.5,"s":0.60},{"p":"D2","g":"L","t":46.5,"s":0.565},{"p":"D2","g":"L","t":68.5,"s":0.50},{"p":"D2","g":"L","t":83,"s":0.50},{"p":"D2","g":"L","t":89.2,"s":0.50},{"p":"D2","g":"L","t":105.8,"s":0.43},{"p":"D2","g":"L","t":116,"s":0.43},{"p":"D2","g":"L","t":126.6,"s":0.43},{"p":"D2","g":"L","t":137,"s":0.43},{"p":"D2","g":"L","t":155.6,"s":0.43},
{"p":"D2","g":"H","t":5,"s":0.92},{"p":"D2","g":"H","t":10.4,"s":0.77},{"p":"D2","g":"H","t":16.6,"s":0.66},{"p":"D2","g":"H","t":43.6,"s":0.405},{"p":"D2","g":"H","t":89.2,"s":0.345},{"p":"D2","g":"H","t":95.4,"s":0.345},{"p":"D2","g":"H","t":124.5,"s":0.27},{"p":"D2","g":"H","t":128.6,"s":0.27},{"p":"D2","g":"H","t":132.8,"s":0.27},{"p":"D2","g":"H","t":139,"s":0.27},
{"p":"E1","g":"L","t":51.3,"s":0.575},{"p":"E1","g":"L","t":55,"s":0.575},{"p":"E1","g":"L","t":59.4,"s":0.555},{"p":"E1","g":"L","t":62,"s":0.555},{"p":"E1","g":"L","t":64.7,"s":0.555},{"p":"E1","g":"L","t":68.7,"s":0.555},{"p":"E1","g":"L","t":72.7,"s":0.555},{"p":"E1","g":"L","t":76.7,"s":0.555},{"p":"E1","g":"L","t":80.5,"s":0.52},{"p":"E1","g":"L","t":83.8,"s":0.49},{"p":"E1","g":"L","t":88.8,"s":0.46},{"p":"E1","g":"L","t":92.8,"s":0.46},{"p":"E1","g":"L","t":96.8,"s":0.46},{"p":"E1","g":"L","t":100.8,"s":0.46},
{"p":"E1","g":"H","t":54,"s":0.365},{"p":"E1","g":"H","t":58,"s":0.365},{"p":"E1","g":"H","t":64.7,"s":0.33},{"p":"E1","g":"H","t":68.7,"s":0.31},{"p":"E1","g":"H","t":71.3,"s":0.31},{"p":"E1","g":"H","t":74,"s":0.31},{"p":"E1","g":"H","t":76.7,"s":0.31},{"p":"E1","g":"H","t":79.4,"s":0.31},{"p":"E1","g":"H","t":82,"s":0.31},{"p":"E1","g":"H","t":84.8,"s":0.31},{"p":"E1","g":"H","t":88.8,"s":0.31},{"p":"E1","g":"H","t":94.1,"s":0.31},
{"p":"E2","g":"L","t":59.5,"s":0.645},{"p":"E2","g":"L","t":61.5,"s":0.645},{"p":"E2","g":"L","t":64.2,"s":0.645},{"p":"E2","g":"L","t":66.8,"s":0.645},{"p":"E2","g":"L","t":70.8,"s":0.645},{"p":"E2","g":"L","t":74.8,"s":0.645},{"p":"E2","g":"L","t":80.1,"s":0.62},{"p":"E2","g":"L","t":86.7,"s":0.585},{"p":"E2","g":"L","t":89.4,"s":0.585},{"p":"E2","g":"L","t":93.4,"s":0.585},{"p":"E2","g":"L","t":98.7,"s":0.585},
{"p":"E2","g":"H","t":59.5,"s":0.60},{"p":"E2","g":"H","t":64.2,"s":0.60},{"p":"E2","g":"H","t":69.5,"s":0.58},{"p":"E2","g":"H","t":73.5,"s":0.58},{"p":"E2","g":"H","t":80.1,"s":0.545},{"p":"E2","g":"H","t":84.1,"s":0.545},{"p":"E2","g":"H","t":86.7,"s":0.545},{"p":"E2","g":"H","t":90.7,"s":0.545},{"p":"E2","g":"H","t":94.7,"s":0.545},{"p":"E2","g":"H","t":98.7,"s":0.545},
{"p":"F1","g":"L","t":2.1,"s":1},{"p":"F1","g":"L","t":5,"s":1},{"p":"F1","g":"L","t":12.5,"s":0.87},{"p":"F1","g":"L","t":16.7,"s":0.765},{"p":"F1","g":"L","t":21.7,"s":0.745},{"p":"F1","g":"L","t":25,"s":0.72},{"p":"F1","g":"L","t":37.5,"s":0.63},{"p":"F1","g":"L","t":64.6,"s":0.58},{"p":"F1","g":"L","t":68.8,"s":0.58},{"p":"F1","g":"L","t":75,"s":0.58},{"p":"F1","g":"L","t":97.9,"s":0.505},{"p":"F1","g":"L","t":129,"s":0.505},{"p":"F1","g":"L","t":137.5,"s":0.505},{"p":"F1","g":"L","t":143.8,"s":0.505},{"p":"F1","g":"L","t":150,"s":0.505},{"p":"F1","g":"L","t":156,"s":0.505},
{"p":"F1","g":"H","t":4.5,"s":0.89},{"p":"F1","g":"H","t":7.8,"s":0.78},{"p":"F1","g":"H","t":13.5,"s":0.61},{"p":"F1","g":"H","t":125,"s":0.115},{"p":"F1","g":"H","t":150,"s":0.115},
{"p":"F2","g":"L","t":1.7,"s":1},{"p":"F2","g":"L","t":3.3,"s":1},{"p":"F2","g":"L","t":6.5,"s":0.94},{"p":"F2","g":"L","t":10.8,"s":0.86},{"p":"F2","g":"L","t":16.6,"s":0.78},{"p":"F2","g":"L","t":21,"s":0.70},{"p":"F2","g":"L","t":33.2,"s":0.58},{"p":"F2","g":"L","t":37.3,"s":0.58},{"p":"F2","g":"L","t":43.6,"s":0.55},{"p":"F2","g":"L","t":66.4,"s":0.46},{"p":"F2","g":"L","t":78.8,"s":0.46},{"p":"F2","g":"L","t":83,"s":0.46},{"p":"F2","g":"L","t":116,"s":0.39},{"p":"F2","g":"L","t":124.5,"s":0.39},{"p":"F2","g":"L","t":139,"s":0.39},{"p":"F2","g":"L","t":156.8,"s":0.39},
{"p":"F2","g":"H","t":5,"s":0.91},{"p":"F2","g":"H","t":10.4,"s":0.76},{"p":"F2","g":"H","t":16.6,"s":0.61},{"p":"F2","g":"H","t":43.6,"s":0.43},{"p":"F2","g":"H","t":78.8,"s":0.38},{"p":"F2","g":"H","t":91.3,"s":0.38},{"p":"F2","g":"H","t":124.5,"s":0.305},{"p":"F2","g":"H","t":128.6,"s":0.305},{"p":"F2","g":"H","t":132.8,"s":0.305},{"p":"F2","g":"H","t":139,"s":0.305},
{"p":"G1","g":"L","t":51.3,"s":0.50},{"p":"G1","g":"L","t":54,"s":0.50},{"p":"G1","g":"L","t":64.7,"s":0.46},{"p":"G1","g":"L","t":68.7,"s":0.44},{"p":"G1","g":"L","t":75.4,"s":0.44},{"p":"G1","g":"L","t":79.4,"s":0.44},{"p":"G1","g":"L","t":82,"s":0.44},{"p":"G1","g":"L","t":84.8,"s":0.42},{"p":"G1","g":"L","t":87.4,"s":0.39},{"p":"G1","g":"L","t":91.4,"s":0.39},{"p":"G1","g":"L","t":94,"s":0.39},{"p":"G1","g":"L","t":96.8,"s":0.39},{"p":"G1","g":"L","t":99.5,"s":0.39},
{"p":"G1","g":"H","t":62,"s":0.425},{"p":"G1","g":"H","t":64.9,"s":0.41},{"p":"G1","g":"H","t":68.7,"s":0.41},{"p":"G1","g":"H","t":71.4,"s":0.41},{"p":"G1","g":"H","t":74,"s":0.41},{"p":"G1","g":"H","t":79.4,"s":0.38},{"p":"G1","g":"H","t":82,"s":0.38},{"p":"G1","g":"H","t":84.8,"s":0.38},{"p":"G1","g":"H","t":87.4,"s":0.38},{"p":"G1","g":"H","t":90.1,"s":0.38},{"p":"G1","g":"H","t":92.8,"s":0.38},{"p":"G1","g":"H","t":95.5,"s":0.38},{"p":"G1","g":"H","t":99.5,"s":0.38},
{"p":"G2","g":"L","t":55,"s":0.76},{"p":"G2","g":"L","t":58.9,"s":0.745},{"p":"G2","g":"L","t":61.5,"s":0.745},{"p":"G2","g":"L","t":64.2,"s":0.745},{"p":"G2","g":"L","t":66.8,"s":0.745},{"p":"G2","g":"L","t":69.5,"s":0.745},{"p":"G2","g":"L","t":72.1,"s":0.745},{"p":"G2","g":"L","t":76.1,"s":0.725},{"p":"G2","g":"L","t":80.1,"s":0.68},{"p":"G2","g":"L","t":85.4,"s":0.615},{"p":"G2","g":"L","t":89.4,"s":0.615},{"p":"G2","g":"L","t":93.4,"s":0.615},{"p":"G2","g":"L","t":97.3,"s":0.615},
{"p":"G2","g":"H","t":58.9,"s":0.50},{"p":"G2","g":"H","t":64.2,"s":0.50},{"p":"G2","g":"H","t":68.2,"s":0.50},{"p":"G2","g":"H","t":72.1,"s":0.50},{"p":"G2","g":"H","t":74.8,"s":0.50},{"p":"G2","g":"H","t":78.8,"s":0.50},{"p":"G2","g":"H","t":82.8,"s":0.50},{"p":"G2","g":"H","t":86.7,"s":0.50},{"p":"G2","g":"H","t":90.7,"s":0.50},{"p":"G2","g":"H","t":94.7,"s":0.50},{"p":"G2","g":"H","t":98.7,"s":0.50},
{"p":"H1","g":"L","t":1.3,"s":1},{"p":"H1","g":"L","t":6.3,"s":0.91},{"p":"H1","g":"L","t":14.6,"s":0.68},{"p":"H1","g":"L","t":38.5,"s":0.465},{"p":"H1","g":"L","t":41.7,"s":0.41},{"p":"H1","g":"L","t":75,"s":0.33},{"p":"H1","g":"L","t":125,"s":0.275},{"p":"H1","g":"L","t":129,"s":0.275},{"p":"H1","g":"L","t":133,"s":0.275},{"p":"H1","g":"L","t":137.5,"s":0.275},{"p":"H1","g":"L","t":141.7,"s":0.275},{"p":"H1","g":"L","t":148,"s":0.275},{"p":"H1","g":"L","t":154,"s":0.275},
{"p":"H1","g":"H","t":6,"s":0.96},{"p":"H1","g":"H","t":15,"s":0.67},{"p":"H1","g":"H","t":22.9,"s":0.62},{"p":"H1","g":"H","t":27,"s":0.59},{"p":"H1","g":"H","t":52,"s":0.50},{"p":"H1","g":"H","t":64.6,"s":0.42},{"p":"H1","g":"H","t":70.8,"s":0.42},{"p":"H1","g":"H","t":75,"s":0.42},{"p":"H1","g":"H","t":79.2,"s":0.42},{"p":"H1","g":"H","t":83.3,"s":0.42},{"p":"H1","g":"H","t":97.9,"s":0.42},{"p":"H1","g":"H","t":143.8,"s":0.32},{"p":"H1","g":"H","t":150,"s":0.32},{"p":"H1","g":"H","t":158,"s":0.32},
{"p":"H2","g":"L","t":1.7,"s":1},{"p":"H2","g":"L","t":3.3,"s":1},{"p":"H2","g":"L","t":6.2,"s":1},{"p":"H2","g":"L","t":16.6,"s":0.88},{"p":"H2","g":"L","t":20.7,"s":0.80},{"p":"H2","g":"L","t":43.6,"s":0.625},{"p":"H2","g":"L","t":51.9,"s":0.625},{"p":"H2","g":"L","t":66.4,"s":0.595},{"p":"H2","g":"L","t":70.5,"s":0.595},{"p":"H2","g":"L","t":74.7,"s":0.595},{"p":"H2","g":"L","t":78.8,"s":0.595},{"p":"H2","g":"L","t":93.4,"s":0.595},{"p":"H2","g":"L","t":122,"s":0.49},{"p":"H2","g":"L","t":126.6,"s":0.49},{"p":"H2","g":"L","t":130.7,"s":0.49},{"p":"H2","g":"L","t":137,"s":0.49},{"p":"H2","g":"L","t":155.6,"s":0.49},
{"p":"H2","g":"H","t":5,"s":0.89},{"p":"H2","g":"H","t":8.3,"s":0.78},{"p":"H2","g":"H","t":12.4,"s":0.68},{"p":"H2","g":"H","t":16.6,"s":0.58},{"p":"H2","g":"H","t":45,"s":0.31},{"p":"H2","g":"H","t":47.7,"s":0.31},{"p":"H2","g":"H","t":83,"s":0.22},{"p":"H2","g":"H","t":112,"s":0.18},{"p":"H2","g":"H","t":120,"s":0.18},{"p":"H2","g":"H","t":128.6,"s":0.18},{"p":"H2","g":"H","t":134.9,"s":0.18}
]
},
"spacing":16.5,
"hconcat":[
{"columns":2,"spacing":{"row":35.3,"column":23},"bounds":"flush","concat":[
  {"title":"A","width":140,"height":169,"layer":[
   {"data":{"name":"km"},"transform":[{"filter":"datum.p=='A1'"}],"mark":{"type":"line","interpolate":"step-after","strokeWidth":1},"encoding":{"x":{"field":"t","type":"quantitative","scale":{"domain":[-5,107],"nice":false,"zero":false},"axis":{"values":[0,25,50,75,100],"title":"Time after surgery (months)"}},"y":{"field":"s","type":"quantitative","scale":{"domain":[-0.058,1.054],"nice":false,"zero":false},"axis":{"values":[0,0.25,0.5,0.75,1],"format":".2f","title":"Survival"}},"color":{"field":"g","type":"nominal","scale":{"domain":["L","H"],"range":["#3DD0D4","#F4A53A"]},"legend":null}}},
   {"data":{"name":"cens"},"transform":[{"filter":"datum.p=='A1'"}],"mark":{"type":"point","shape":"M-1,0H1M0,-1V1","size":18,"filled":false,"strokeWidth":0.8,"opacity":1},"encoding":{"x":{"field":"t","type":"quantitative"},"y":{"field":"s","type":"quantitative"},"color":{"field":"g","type":"nominal","legend":null}}},
   {"data":{"name":"one"},"mark":{"type":"text","color":"#3A8FA3"},"encoding":{"x":{"datum":49.5,"type":"quantitative"},"y":{"datum":0.69,"type":"quantitative"},"text":{"value":"Low (n=66)"}}},
   {"data":{"name":"one"},"mark":{"type":"text","color":"#E3893A"},"encoding":{"x":{"datum":47.5,"type":"quantitative"},"y":{"datum":0.425,"type":"quantitative"},"text":{"value":"High (n=67)"}}},
   {"data":{"name":"one"},"mark":{"type":"text"},"encoding":{"x":{"datum":5,"type":"quantitative"},"y":{"datum":0.147,"type":"quantitative"},"text":{"value":"Log rank χ² = 5.76"}}},
   {"data":{"name":"one"},"mark":{"type":"text","fontStyle":"italic","fontWeight":"bold"},"encoding":{"x":{"datum":5,"type":"quantitative"},"y":{"datum":0.067,"type":"quantitative"},"text":{"value":"p"}}},
   {"data":{"name":"one"},"mark":{"type":"text","dx":10},"encoding":{"x":{"datum":5,"type":"quantitative"},"y":{"datum":0.067,"type":"quantitative"},"text":{"value":"= 0.016"}}}
  ]},
  {"width":140,"height":169,"layer":[
   {"data":{"name":"km"},"transform":[{"filter":"datum.p=='A2'"}],"mark":{"type":"line","interpolate":"step-after","strokeWidth":1},"encoding":{"x":{"field":"t","type":"quantitative","scale":{"domain":[-5,107],"nice":false,"zero":false},"axis":{"values":[0,25,50,75,100],"title":"Time after surgery (months)"}},"y":{"field":"s","type":"quantitative","scale":{"domain":[-0.058,1.054],"nice":false,"zero":false},"axis":{"values":[0,0.25,0.5,0.75,1],"format":".2f","title":"Survival"}},"color":{"field":"g","type":"nominal","scale":{"domain":["L","H"],"range":["#3DD0D4","#F4A53A"]},"legend":null}}},
   {"data":{"name":"cens"},"transform":[{"filter":"datum.p=='A2'"}],"mark":{"type":"point","shape":"M-1,0H1M0,-1V1","size":18,"filled":false,"strokeWidth":0.8,"opacity":1},"encoding":{"x":{"field":"t","type":"quantitative"},"y":{"field":"s","type":"quantitative"},"color":{"field":"g","type":"nominal","legend":null}}},
   {"data":{"name":"one"},"mark":{"type":"text","color":"#3A8FA3"},"encoding":{"x":{"datum":35.5,"type":"quantitative"},"y":{"datum":0.80,"type":"quantitative"},"text":{"value":"Low (n=72)"}}},
   {"data":{"name":"one"},"mark":{"type":"text","color":"#E3893A"},"encoding":{"x":{"datum":49.5,"type":"quantitative"},"y":{"datum":0.425,"type":"quantitative"},"text":{"value":"High (n=73)"}}},
   {"data":{"name":"one"},"mark":{"type":"text"},"encoding":{"x":{"datum":5,"type":"quantitative"},"y":{"datum":0.147,"type":"quantitative"},"text":{"value":"Log rank χ² = 0.50"}}},
   {"data":{"name":"one"},"mark":{"type":"text","fontStyle":"italic","fontWeight":"bold"},"encoding":{"x":{"datum":5,"type":"quantitative"},"y":{"datum":0.067,"type":"quantitative"},"text":{"value":"p"}}},
   {"data":{"name":"one"},"mark":{"type":"text","dx":10},"encoding":{"x":{"datum":5,"type":"quantitative"},"y":{"datum":0.067,"type":"quantitative"},"text":{"value":"= 0.454"}}}
  ]},
  {"title":"C","width":140,"height":169,"layer":[
   {"data":{"name":"km"},"transform":[{"filter":"datum.p=='C1'"}],"mark":{"type":"line","interpolate":"step-after","strokeWidth":1},"encoding":{"x":{"field":"t","type":"quantitative","scale":{"domain":[-5,107],"nice":false,"zero":false},"axis":{"values":[0,25,50,75,100],"title":"Time after surgery (months)"}},"y":{"field":"s","type":"quantitative","scale":{"domain":[-0.058,1.054],"nice":false,"zero":false},"axis":{"values":[0,0.25,0.5,0.75,1],"format":".2f","title":"Survival"}},"color":{"field":"g","type":"nominal","scale":{"domain":["L","H"],"range":["#3DD0D4","#F4A53A"]},"legend":null}}},
   {"data":{"name":"cens"},"transform":[{"filter":"datum.p=='C1'"}],"mark":{"type":"point","shape":"M-1,0H1M0,-1V1","size":18,"filled":false,"strokeWidth":0.8,"opacity":1},"encoding":{"x":{"field":"t","type":"quantitative"},"y":{"field":"s","type":"quantitative"},"color":{"field":"g","type":"nominal","legend":null}}},
   {"data":{"name":"one"},"mark":{"type":"text","color":"#3A8FA3"},"encoding":{"x":{"datum":49.5,"type":"quantitative"},"y":{"datum":0.678,"type":"quantitative"},"text":{"value":"Low (n=66)"}}},
   {"data":{"name":"one"},"mark":{"type":"text","color":"#E3893A"},"encoding":{"x":{"datum":48,"type":"quantitative"},"y":{"datum":0.41,"type":"quantitative"},"text":{"value":"High (n=67)"}}},
   {"data":{"name":"one"},"mark":{"type":"text"},"encoding":{"x":{"datum":5,"type":"quantitative"},"y":{"datum":0.147,"type":"quantitative"},"text":{"value":"Log rank χ² = 5.19"}}},
   {"data":{"name":"one"},"mark":{"type":"text","fontStyle":"italic","fontWeight":"bold"},"encoding":{"x":{"datum":5,"type":"quantitative"},"y":{"datum":0.067,"type":"quantitative"},"text":{"value":"p"}}},
   {"data":{"name":"one"},"mark":{"type":"text","dx":10},"encoding":{"x":{"datum":5,"type":"quantitative"},"y":{"datum":0.067,"type":"quantitative"},"text":{"value":"= 0.023"}}}
  ]},
  {"width":140,"height":169,"layer":[
   {"data":{"name":"km"},"transform":[{"filter":"datum.p=='C2'"}],"mark":{"type":"line","interpolate":"step-after","strokeWidth":1},"encoding":{"x":{"field":"t","type":"quantitative","scale":{"domain":[-5,107],"nice":false,"zero":false},"axis":{"values":[0,25,50,75,100],"title":"Time after surgery (months)"}},"y":{"field":"s","type":"quantitative","scale":{"domain":[-0.058,1.054],"nice":false,"zero":false},"axis":{"values":[0,0.25,0.5,0.75,1],"format":".2f","title":"Survival"}},"color":{"field":"g","type":"nominal","scale":{"domain":["L","H"],"range":["#3DD0D4","#F4A53A"]},"legend":null}}},
   {"data":{"name":"cens"},"transform":[{"filter":"datum.p=='C2'"}],"mark":{"type":"point","shape":"M-1,0H1M0,-1V1","size":18,"filled":false,"strokeWidth":0.8,"opacity":1},"encoding":{"x":{"field":"t","type":"quantitative"},"y":{"field":"s","type":"quantitative"},"color":{"field":"g","type":"nominal","legend":null}}},
   {"data":{"name":"one"},"mark":{"type":"text","color":"#3A8FA3"},"encoding":{"x":{"datum":36,"type":"quantitative"},"y":{"datum":0.787,"type":"quantitative"},"text":{"value":"Low (n=72)"}}},
   {"data":{"name":"one"},"mark":{"type":"text","color":"#E3893A"},"encoding":{"x":{"datum":49.5,"type":"quantitative"},"y":{"datum":0.414,"type":"quantitative"},"text":{"value":"High (n=73)"}}},
   {"data":{"name":"one"},"mark":{"type":"text"},"encoding":{"x":{"datum":5,"type":"quantitative"},"y":{"datum":0.147,"type":"quantitative"},"text":{"value":"Log rank χ² = 0.676"}}},
   {"data":{"name":"one"},"mark":{"type":"text","fontStyle":"italic","fontWeight":"bold"},"encoding":{"x":{"datum":5,"type":"quantitative"},"y":{"datum":0.067,"type":"quantitative"},"text":{"value":"p"}}},
   {"data":{"name":"one"},"mark":{"type":"text","dx":10},"encoding":{"x":{"datum":5,"type":"quantitative"},"y":{"datum":0.067,"type":"quantitative"},"text":{"value":"= 0.411"}}}
  ]},
  {"title":"E","width":140,"height":169,"layer":[
   {"data":{"name":"km"},"transform":[{"filter":"datum.p=='E1'"}],"mark":{"type":"line","interpolate":"step-after","strokeWidth":1},"encoding":{"x":{"field":"t","type":"quantitative","scale":{"domain":[-5,107],"nice":false,"zero":false},"axis":{"values":[0,25,50,75,100],"title":"Time after surgery (months)"}},"y":{"field":"s","type":"quantitative","scale":{"domain":[-0.058,1.054],"nice":false,"zero":false},"axis":{"values":[0,0.25,0.5,0.75,1],"format":".2f","title":"Survival"}},"color":{"field":"g","type":"nominal","scale":{"domain":["L","H"],"range":["#3DD0D4","#F4A53A"]},"legend":null}}},
   {"data":{"name":"cens"},"transform":[{"filter":"datum.p=='E1'"}],"mark":{"type":"point","shape":"M-1,0H1M0,-1V1","size":18,"filled":false,"strokeWidth":0.8,"opacity":1},"encoding":{"x":{"field":"t","type":"quantitative"},"y":{"field":"s","type":"quantitative"},"color":{"field":"g","type":"nominal","legend":null}}},
   {"data":{"name":"one"},"mark":{"type":"text","color":"#3A8FA3"},"encoding":{"x":{"datum":49.5,"type":"quantitative"},"y":{"datum":0.682,"type":"quantitative"},"text":{"value":"Low (n=66)"}}},
   {"data":{"name":"one"},"mark":{"type":"text","color":"#E3893A"},"encoding":{"x":{"datum":48,"type":"quantitative"},"y":{"datum":0.419,"type":"quantitative"},"text":{"value":"High (n=67)"}}},
   {"data":{"name":"one"},"mark":{"type":"text"},"encoding":{"x":{"datum":5,"type":"quantitative"},"y":{"datum":0.147,"type":"quantitative"},"text":{"value":"Log rank χ² = 4.45"}}},
   {"data":{"name":"one"},"mark":{"type":"text","fontStyle":"italic","fontWeight":"bold"},"encoding":{"x":{"datum":5,"type":"quantitative"},"y":{"datum":0.067,"type":"quantitative"},"text":{"value":"p"}}},
   {"data":{"name":"one"},"mark":{"type":"text","dx":10},"encoding":{"x":{"datum":5,"type":"quantitative"},"y":{"datum":0.067,"type":"quantitative"},"text":{"value":"= 0.035"}}}
  ]},
  {"width":140,"height":169,"layer":[
   {"data":{"name":"km"},"transform":[{"filter":"datum.p=='E2'"}],"mark":{"type":"line","interpolate":"step-after","strokeWidth":1},"encoding":{"x":{"field":"t","type":"quantitative","scale":{"domain":[-5,107],"nice":false,"zero":false},"axis":{"values":[0,25,50,75,100],"title":"Time after surgery (months)"}},"y":{"field":"s","type":"quantitative","scale":{"domain":[-0.058,1.054],"nice":false,"zero":false},"axis":{"values":[0,0.25,0.5,0.75,1],"format":".2f","title":"Survival"}},"color":{"field":"g","type":"nominal","scale":{"domain":["L","H"],"range":["#3DD0D4","#F4A53A"]},"legend":null}}},
   {"data":{"name":"cens"},"transform":[{"filter":"datum.p=='E2'"}],"mark":{"type":"point","shape":"M-1,0H1M0,-1V1","size":18,"filled":false,"strokeWidth":0.8,"opacity":1},"encoding":{"x":{"field":"t","type":"quantitative"},"y":{"field":"s","type":"quantitative"},"color":{"field":"g","type":"nominal","legend":null}}},
   {"data":{"name":"one"},"mark":{"type":"text","color":"#3A8FA3"},"encoding":{"x":{"datum":36,"type":"quantitative"},"y":{"datum":0.791,"type":"quantitative"},"text":{"value":"Low (n=72)"}}},
   {"data":{"name":"one"},"mark":{"type":"text","color":"#E3893A"},"encoding":{"x":{"datum":49.5,"type":"quantitative"},"y":{"datum":0.432,"type":"quantitative"},"text":{"value":"High (n=73)"}}},
   {"data":{"name":"one"},"mark":{"type":"text"},"encoding":{"x":{"datum":5,"type":"quantitative"},"y":{"datum":0.147,"type":"quantitative"},"text":{"value":"Log rank χ² = 0.661"}}},
   {"data":{"name":"one"},"mark":{"type":"text","fontStyle":"italic","fontWeight":"bold"},"encoding":{"x":{"datum":5,"type":"quantitative"},"y":{"datum":0.067,"type":"quantitative"},"text":{"value":"p"}}},
   {"data":{"name":"one"},"mark":{"type":"text","dx":10},"encoding":{"x":{"datum":5,"type":"quantitative"},"y":{"datum":0.067,"type":"quantitative"},"text":{"value":"= 0.416"}}}
  ]},
  {"title":"G","width":140,"height":169,"layer":[
   {"data":{"name":"km"},"transform":[{"filter":"datum.p=='G1'"}],"mark":{"type":"line","interpolate":"step-after","strokeWidth":1},"encoding":{"x":{"field":"t","type":"quantitative","scale":{"domain":[-5,107],"nice":false,"zero":false},"axis":{"values":[0,25,50,75,100],"title":"Time after surgery (months)"}},"y":{"field":"s","type":"quantitative","scale":{"domain":[-0.058,1.054],"nice":false,"zero":false},"axis":{"values":[0,0.25,0.5,0.75,1],"format":".2f","title":"Survival"}},"color":{"field":"g","type":"nominal","scale":{"domain":["L","H"],"range":["#3DD0D4","#F4A53A"]},"legend":null}}},
   {"data":{"name":"cens"},"transform":[{"filter":"datum.p=='G1'"}],"mark":{"type":"point","shape":"M-1,0H1M0,-1V1","size":18,"filled":false,"strokeWidth":0.8,"opacity":1},"encoding":{"x":{"field":"t","type":"quantitative"},"y":{"field":"s","type":"quantitative"},"color":{"field":"g","type":"nominal","legend":null}}},
   {"data":{"name":"one"},"mark":{"type":"text","color":"#3A8FA3"},"encoding":{"x":{"datum":30,"type":"quantitative"},"y":{"datum":0.686,"type":"quantitative"},"text":{"value":"Low (n=66)"}}},
   {"data":{"name":"one"},"mark":{"type":"text","color":"#E3893A"},"encoding":{"x":{"datum":48,"type":"quantitative"},"y":{"datum":0.322,"type":"quantitative"},"text":{"value":"High (n=67)"}}},
   {"data":{"name":"one"},"mark":{"type":"text"},"encoding":{"x":{"datum":5,"type":"quantitative"},"y":{"datum":0.147,"type":"quantitative"},"text":{"value":"Log rank χ² = 0.540"}}},
   {"data":{"name":"one"},"mark":{"type":"text","fontStyle":"italic","fontWeight":"bold"},"encoding":{"x":{"datum":5,"type":"quantitative"},"y":{"datum":0.067,"type":"quantitative"},"text":{"value":"p"}}},
   {"data":{"name":"one"},"mark":{"type":"text","dx":10},"encoding":{"x":{"datum":5,"type":"quantitative"},"y":{"datum":0.067,"type":"quantitative"},"text":{"value":"= 0.463"}}}
  ]},
  {"width":140,"height":169,"layer":[
   {"data":{"name":"km"},"transform":[{"filter":"datum.p=='G2'"}],"mark":{"type":"line","interpolate":"step-after","strokeWidth":1},"encoding":{"x":{"field":"t","type":"quantitative","scale":{"domain":[-5,107],"nice":false,"zero":false},"axis":{"values":[0,25,50,75,100],"title":"Time after surgery (months)"}},"y":{"field":"s","type":"quantitative","scale":{"domain":[-0.058,1.054],"nice":false,"zero":false},"axis":{"values":[0,0.25,0.5,0.75,1],"format":".2f","title":"Survival"}},"color":{"field":"g","type":"nominal","scale":{"domain":["L","H"],"range":["#3DD0D4","#F4A53A"]},"legend":null}}},
   {"data":{"name":"cens"},"transform":[{"filter":"datum.p=='G2'"}],"mark":{"type":"point","shape":"M-1,0H1M0,-1V1","size":18,"filled":false,"strokeWidth":0.8,"opacity":1},"encoding":{"x":{"field":"t","type":"quantitative"},"y":{"field":"s","type":"quantitative"},"color":{"field":"g","type":"nominal","legend":null}}},
   {"data":{"name":"one"},"mark":{"type":"text","color":"#3A8FA3"},"encoding":{"x":{"datum":43,"type":"quantitative"},"y":{"datum":0.86,"type":"quantitative"},"text":{"value":"Low (n=72)"}}},
   {"data":{"name":"one"},"mark":{"type":"text","color":"#E3893A"},"encoding":{"x":{"datum":49.5,"type":"quantitative"},"y":{"datum":0.38,"type":"quantitative"},"text":{"value":"High (n=73)"}}},
   {"data":{"name":"one"},"mark":{"type":"text"},"encoding":{"x":{"datum":5,"type":"quantitative"},"y":{"datum":0.147,"type":"quantitative"},"text":{"value":"Log rank χ² = 5.52"}}},
   {"data":{"name":"one"},"mark":{"type":"text","fontStyle":"italic","fontWeight":"bold"},"encoding":{"x":{"datum":5,"type":"quantitative"},"y":{"datum":0.067,"type":"quantitative"},"text":{"value":"p"}}},
   {"data":{"name":"one"},"mark":{"type":"text","dx":10},"encoding":{"x":{"datum":5,"type":"quantitative"},"y":{"datum":0.067,"type":"quantitative"},"text":{"value":"= 0.018"}}}
  ]}
]},
{"columns":2,"spacing":{"row":35.3,"column":23},"bounds":"flush","concat":[
  {"title":"B","width":140,"height":169,"layer":[
   {"data":{"name":"km"},"transform":[{"filter":"datum.p=='B1'"}],"mark":{"type":"line","interpolate":"step-after","strokeWidth":1},"encoding":{"x":{"field":"t","type":"quantitative","scale":{"domain":[-8,167],"nice":false,"zero":false},"axis":{"values":[0,50,100,150],"title":"Time after surgery (months)"}},"y":{"field":"s","type":"quantitative","scale":{"domain":[-0.058,1.054],"nice":false,"zero":false},"axis":{"values":[0,0.25,0.5,0.75,1],"format":".2f","title":"Survival"}},"color":{"field":"g","type":"nominal","scale":{"domain":["L","H"],"range":["#3DD0D4","#F4A53A"]},"legend":null}}},
   {"data":{"name":"cens"},"transform":[{"filter":"datum.p=='B1'"}],"mark":{"type":"point","shape":"M-1,0H1M0,-1V1","size":18,"filled":false,"strokeWidth":0.8,"opacity":1},"encoding":{"x":{"field":"t","type":"quantitative"},"y":{"field":"s","type":"quantitative"},"color":{"field":"g","type":"nominal","legend":null}}},
   {"data":{"name":"one"},"mark":{"type":"text","color":"#3A8FA3"},"encoding":{"x":{"datum":59,"type":"quantitative"},"y":{"datum":0.585,"type":"quantitative"},"text":{"value":"Low (n=37)"}}},
   {"data":{"name":"one"},"mark":{"type":"text","color":"#E3893A"},"encoding":{"x":{"datum":70,"type":"quantitative"},"y":{"datum":0.316,"type":"quantitative"},"text":{"value":"High (n=37)"}}},
   {"data":{"name":"one"},"mark":{"type":"text"},"encoding":{"x":{"datum":9.5,"type":"quantitative"},"y":{"datum":0.147,"type":"quantitative"},"text":{"value":"Log rank χ² = 4.21"}}},
   {"data":{"name":"one"},"mark":{"type":"text","fontStyle":"italic","fontWeight":"bold"},"encoding":{"x":{"datum":9.5,"type":"quantitative"},"y":{"datum":0.067,"type":"quantitative"},"text":{"value":"p"}}},
   {"data":{"name":"one"},"mark":{"type":"text","dx":10},"encoding":{"x":{"datum":9.5,"type":"quantitative"},"y":{"datum":0.067,"type":"quantitative"},"text":{"value":"= 0.040"}}}
  ]},
  {"width":140,"height":169,"layer":[
   {"data":{"name":"km"},"transform":[{"filter":"datum.p=='B2'"}],"mark":{"type":"line","interpolate":"step-after","strokeWidth":1},"encoding":{"x":{"field":"t","type":"quantitative","scale":{"domain":[-8,167],"nice":false,"zero":false},"axis":{"values":[0,50,100,150],"title":"Time after surgery (months)"}},"y":{"field":"s","type":"quantitative","scale":{"domain":[-0.058,1.054],"nice":false,"zero":false},"axis":{"values":[0,0.25,0.5,0.75,1],"format":".2f","title":"Survival"}},"color":{"field":"g","type":"nominal","scale":{"domain":["L","H"],"range":["#3DD0D4","#F4A53A"]},"legend":null}}},
   {"data":{"name":"cens"},"transform":[{"filter":"datum.p=='B2'"}],"mark":{"type":"point","shape":"M-1,0H1M0,-1V1","size":18,"filled":false,"strokeWidth":0.8,"opacity":1},"encoding":{"x":{"field":"t","type":"quantitative"},"y":{"field":"s","type":"quantitative"},"color":{"field":"g","type":"nominal","legend":null}}},
   {"data":{"name":"one"},"mark":{"type":"text","color":"#3A8FA3"},"encoding":{"x":{"datum":70.5,"type":"quantitative"},"y":{"datum":0.585,"type":"quantitative"},"text":{"value":"Low (n=49)"}}},
   {"data":{"name":"one"},"mark":{"type":"text","color":"#E3893A"},"encoding":{"x":{"datum":19,"type":"quantitative"},"y":{"datum":0.316,"type":"quantitative"},"text":{"value":"High (n=49)"}}},
   {"data":{"name":"one"},"mark":{"type":"text"},"encoding":{"x":{"datum":9.5,"type":"quantitative"},"y":{"datum":0.147,"type":"quantitative"},"text":{"value":"Log rank χ² = 0.676"}}},
   {"data":{"name":"one"},"mark":{"type":"text","fontStyle":"italic","fontWeight":"bold"},"encoding":{"x":{"datum":9.5,"type":"quantitative"},"y":{"datum":0.067,"type":"quantitative"},"text":{"value":"p"}}},
   {"data":{"name":"one"},"mark":{"type":"text","dx":10},"encoding":{"x":{"datum":9.5,"type":"quantitative"},"y":{"datum":0.067,"type":"quantitative"},"text":{"value":"= 0.411"}}}
  ]},
  {"title":"D","width":140,"height":169,"layer":[
   {"data":{"name":"km"},"transform":[{"filter":"datum.p=='D1'"}],"mark":{"type":"line","interpolate":"step-after","strokeWidth":1},"encoding":{"x":{"field":"t","type":"quantitative","scale":{"domain":[-8,167],"nice":false,"zero":false},"axis":{"values":[0,50,100,150],"title":"Time after surgery (months)"}},"y":{"field":"s","type":"quantitative","scale":{"domain":[-0.058,1.054],"nice":false,"zero":false},"axis":{"values":[0,0.25,0.5,0.75,1],"format":".2f","title":"Survival"}},"color":{"field":"g","type":"nominal","scale":{"domain":["L","H"],"range":["#3DD0D4","#F4A53A"]},"legend":null}}},
   {"data":{"name":"cens"},"transform":[{"filter":"datum.p=='D1'"}],"mark":{"type":"point","shape":"M-1,0H1M0,-1V1","size":18,"filled":false,"strokeWidth":0.8,"opacity":1},"encoding":{"x":{"field":"t","type":"quantitative"},"y":{"field":"s","type":"quantitative"},"color":{"field":"g","type":"nominal","legend":null}}},
   {"data":{"name":"one"},"mark":{"type":"text","color":"#3A8FA3"},"encoding":{"x":{"datum":59,"type":"quantitative"},"y":{"datum":0.638,"type":"quantitative"},"text":{"value":"Low (n=37)"}}},
   {"data":{"name":"one"},"mark":{"type":"text","color":"#E3893A"},"encoding":{"x":{"datum":70,"type":"quantitative"},"y":{"datum":0.305,"type":"quantitative"},"text":{"value":"High (n=37)"}}},
   {"data":{"name":"one"},"mark":{"type":"text"},"encoding":{"x":{"datum":9.5,"type":"quantitative"},"y":{"datum":0.147,"type":"quantitative"},"text":{"value":"Log rank χ² = 6.40"}}},
   {"data":{"name":"one"},"mark":{"type":"text","fontStyle":"italic","fontWeight":"bold"},"encoding":{"x":{"datum":9.5,"type":"quantitative"},"y":{"datum":0.067,"type":"quantitative"},"text":{"value":"p"}}},
   {"data":{"name":"one"},"mark":{"type":"text","dx":10},"encoding":{"x":{"datum":9.5,"type":"quantitative"},"y":{"datum":0.067,"type":"quantitative"},"text":{"value":"= 0.011"}}}
  ]},
  {"width":140,"height":169,"layer":[
   {"data":{"name":"km"},"transform":[{"filter":"datum.p=='D2'"}],"mark":{"type":"line","interpolate":"step-after","strokeWidth":1},"encoding":{"x":{"field":"t","type":"quantitative","scale":{"domain":[-8,167],"nice":false,"zero":false},"axis":{"values":[0,50,100,150],"title":"Time after surgery (months)"}},"y":{"field":"s","type":"quantitative","scale":{"domain":[-0.058,1.054],"nice":false,"zero":false},"axis":{"values":[0,0.25,0.5,0.75,1],"format":".2f","title":"Survival"}},"color":{"field":"g","type":"nominal","scale":{"domain":["L","H"],"range":["#3DD0D4","#F4A53A"]},"legend":null}}},
   {"data":{"name":"cens"},"transform":[{"filter":"datum.p=='D2'"}],"mark":{"type":"point","shape":"M-1,0H1M0,-1V1","size":18,"filled":false,"strokeWidth":0.8,"opacity":1},"encoding":{"x":{"field":"t","type":"quantitative"},"y":{"field":"s","type":"quantitative"},"color":{"field":"g","type":"nominal","legend":null}}},
   {"data":{"name":"one"},"mark":{"type":"text","color":"#3A8FA3"},"encoding":{"x":{"datum":70.5,"type":"quantitative"},"y":{"datum":0.638,"type":"quantitative"},"text":{"value":"Low (n=49)"}}},
   {"data":{"name":"one"},"mark":{"type":"text","color":"#E3893A"},"encoding":{"x":{"datum":19,"type":"quantitative"},"y":{"datum":0.261,"type":"quantitative"},"text":{"value":"High (n=49)"}}},
   {"data":{"name":"one"},"mark":{"type":"text"},"encoding":{"x":{"datum":9.5,"type":"quantitative"},"y":{"datum":0.147,"type":"quantitative"},"text":{"value":"Log rank χ² = 2.33"}}},
   {"data":{"name":"one"},"mark":{"type":"text","fontStyle":"italic","fontWeight":"bold"},"encoding":{"x":{"datum":9.5,"type":"quantitative"},"y":{"datum":0.067,"type":"quantitative"},"text":{"value":"p"}}},
   {"data":{"name":"one"},"mark":{"type":"text","dx":10},"encoding":{"x":{"datum":9.5,"type":"quantitative"},"y":{"datum":0.067,"type":"quantitative"},"text":{"value":"= 0.127"}}}
  ]},
  {"title":"F","width":140,"height":169,"layer":[
   {"data":{"name":"km"},"transform":[{"filter":"datum.p=='F1'"}],"mark":{"type":"line","interpolate":"step-after","strokeWidth":1},"encoding":{"x":{"field":"t","type":"quantitative","scale":{"domain":[-8,167],"nice":false,"zero":false},"axis":{"values":[0,50,100,150],"title":"Time after surgery (months)"}},"y":{"field":"s","type":"quantitative","scale":{"domain":[-0.058,1.054],"nice":false,"zero":false},"axis":{"values":[0,0.25,0.5,0.75,1],"format":".2f","title":"Survival"}},"color":{"field":"g","type":"nominal","scale":{"domain":["L","H"],"range":["#3DD0D4","#F4A53A"]},"legend":null}}},
   {"data":{"name":"cens"},"transform":[{"filter":"datum.p=='F1'"}],"mark":{"type":"point","shape":"M-1,0H1M0,-1V1","size":18,"filled":false,"strokeWidth":0.8,"opacity":1},"encoding":{"x":{"field":"t","type":"quantitative"},"y":{"field":"s","type":"quantitative"},"color":{"field":"g","type":"nominal","legend":null}}},
   {"data":{"name":"one"},"mark":{"type":"text","color":"#3A8FA3"},"encoding":{"x":{"datum":59,"type":"quantitative"},"y":{"datum":0.70,"type":"quantitative"},"text":{"value":"Low (n=37)"}}},
   {"data":{"name":"one"},"mark":{"type":"text","color":"#E3893A"},"encoding":{"x":{"datum":70,"type":"quantitative"},"y":{"datum":0.309,"type":"quantitative"},"text":{"value":"High (n=37)"}}},
   {"data":{"name":"one"},"mark":{"type":"text"},"encoding":{"x":{"datum":9.5,"type":"quantitative"},"y":{"datum":0.147,"type":"quantitative"},"text":{"value":"Log rank χ² = 11.80"}}},
   {"data":{"name":"one"},"mark":{"type":"text","fontStyle":"italic","fontWeight":"bold"},"encoding":{"x":{"datum":9.5,"type":"quantitative"},"y":{"datum":0.067,"type":"quantitative"},"text":{"value":"p"}}},
   {"data":{"name":"one"},"mark":{"type":"text","dx":10},"encoding":{"x":{"datum":9.5,"type":"quantitative"},"y":{"datum":0.067,"type":"quantitative"},"text":{"value":"< 0.001"}}}
  ]},
  {"width":140,"height":169,"layer":[
   {"data":{"name":"km"},"transform":[{"filter":"datum.p=='F2'"}],"mark":{"type":"line","interpolate":"step-after","strokeWidth":1},"encoding":{"x":{"field":"t","type":"quantitative","scale":{"domain":[-8,167],"nice":false,"zero":false},"axis":{"values":[0,50,100,150],"title":"Time after surgery (months)"}},"y":{"field":"s","type":"quantitative","scale":{"domain":[-0.058,1.054],"nice":false,"zero":false},"axis":{"values":[0,0.25,0.5,0.75,1],"format":".2f","title":"Survival"}},"color":{"field":"g","type":"nominal","scale":{"domain":["L","H"],"range":["#3DD0D4","#F4A53A"]},"legend":null}}},
   {"data":{"name":"cens"},"transform":[{"filter":"datum.p=='F2'"}],"mark":{"type":"point","shape":"M-1,0H1M0,-1V1","size":18,"filled":false,"strokeWidth":0.8,"opacity":1},"encoding":{"x":{"field":"t","type":"quantitative"},"y":{"field":"s","type":"quantitative"},"color":{"field":"g","type":"nominal","legend":null}}},
   {"data":{"name":"one"},"mark":{"type":"text","color":"#3A8FA3"},"encoding":{"x":{"datum":80.5,"type":"quantitative"},"y":{"datum":0.682,"type":"quantitative"},"text":{"value":"Low (n=49)"}}},
   {"data":{"name":"one"},"mark":{"type":"text","color":"#E3893A"},"encoding":{"x":{"datum":19,"type":"quantitative"},"y":{"datum":0.322,"type":"quantitative"},"text":{"value":"High (n=49)"}}},
   {"data":{"name":"one"},"mark":{"type":"text"},"encoding":{"x":{"datum":9.5,"type":"quantitative"},"y":{"datum":0.147,"type":"quantitative"},"text":{"value":"Log rank χ² = 1.35"}}},
   {"data":{"name":"one"},"mark":{"type":"text","fontStyle":"italic","fontWeight":"bold"},"encoding":{"x":{"datum":9.5,"type":"quantitative"},"y":{"datum":0.067,"type":"quantitative"},"text":{"value":"p"}}},
   {"data":{"name":"one"},"mark":{"type":"text","dx":10},"encoding":{"x":{"datum":9.5,"type":"quantitative"},"y":{"datum":0.067,"type":"quantitative"},"text":{"value":"= 0.245"}}}
  ]},
  {"title":"H","width":140,"height":169,"layer":[
   {"data":{"name":"km"},"transform":[{"filter":"datum.p=='H1'"}],"mark":{"type":"line","interpolate":"step-after","strokeWidth":1},"encoding":{"x":{"field":"t","type":"quantitative","scale":{"domain":[-8,167],"nice":false,"zero":false},"axis":{"values":[0,50,100,150],"title":"Time after surgery (months)"}},"y":{"field":"s","type":"quantitative","scale":{"domain":[-0.058,1.054],"nice":false,"zero":false},"axis":{"values":[0,0.25,0.5,0.75,1],"format":".2f","title":"Survival"}},"color":{"field":"g","type":"nominal","scale":{"domain":["L","H"],"range":["#3DD0D4","#F4A53A"]},"legend":null}}},
   {"data":{"name":"cens"},"transform":[{"filter":"datum.p=='H1'"}],"mark":{"type":"point","shape":"M-1,0H1M0,-1V1","size":18,"filled":false,"strokeWidth":0.8,"opacity":1},"encoding":{"x":{"field":"t","type":"quantitative"},"y":{"field":"s","type":"quantitative"},"color":{"field":"g","type":"nominal","legend":null}}},
   {"data":{"name":"one"},"mark":{"type":"text","color":"#E3893A"},"encoding":{"x":{"datum":59,"type":"quantitative"},"y":{"datum":0.592,"type":"quantitative"},"text":{"value":"High (n=37)"}}},
   {"data":{"name":"one"},"mark":{"type":"text","color":"#3A8FA3"},"encoding":{"x":{"datum":18.5,"type":"quantitative"},"y":{"datum":0.27,"type":"quantitative"},"text":{"value":"Low (n=37)"}}},
   {"data":{"name":"one"},"mark":{"type":"text"},"encoding":{"x":{"datum":9.5,"type":"quantitative"},"y":{"datum":0.147,"type":"quantitative"},"text":{"value":"Log rank χ² = 0.396"}}},
   {"data":{"name":"one"},"mark":{"type":"text","fontStyle":"italic","fontWeight":"bold"},"encoding":{"x":{"datum":9.5,"type":"quantitative"},"y":{"datum":0.067,"type":"quantitative"},"text":{"value":"p"}}},
   {"data":{"name":"one"},"mark":{"type":"text","dx":10},"encoding":{"x":{"datum":9.5,"type":"quantitative"},"y":{"datum":0.067,"type":"quantitative"},"text":{"value":"= 0.529"}}}
  ]},
  {"width":140,"height":169,"layer":[
   {"data":{"name":"km"},"transform":[{"filter":"datum.p=='H2'"}],"mark":{"type":"line","interpolate":"step-after","strokeWidth":1},"encoding":{"x":{"field":"t","type":"quantitative","scale":{"domain":[-8,167],"nice":false,"zero":false},"axis":{"values":[0,50,100,150],"title":"Time after surgery (months)"}},"y":{"field":"s","type":"quantitative","scale":{"domain":[-0.058,1.054],"nice":false,"zero":false},"axis":{"values":[0,0.25,0.5,0.75,1],"format":".2f","title":"Survival"}},"color":{"field":"g","type":"nominal","scale":{"domain":["L","H"],"range":["#3DD0D4","#F4A53A"]},"legend":null}}},
   {"data":{"name":"cens"},"transform":[{"filter":"datum.p=='H2'"}],"mark":{"type":"point","shape":"M-1,0H1M0,-1V1","size":18,"filled":false,"strokeWidth":0.8,"opacity":1},"encoding":{"x":{"field":"t","type":"quantitative"},"y":{"field":"s","type":"quantitative"},"color":{"field":"g","type":"nominal","legend":null}}},
   {"data":{"name":"one"},"mark":{"type":"text","color":"#3A8FA3"},"encoding":{"x":{"datum":49,"type":"quantitative"},"y":{"datum":0.686,"type":"quantitative"},"text":{"value":"Low (n=49)"}}},
   {"data":{"name":"one"},"mark":{"type":"text","color":"#E3893A"},"encoding":{"x":{"datum":80.5,"type":"quantitative"},"y":{"datum":0.322,"type":"quantitative"},"text":{"value":"High (n=49)"}}},
   {"data":{"name":"one"},"mark":{"type":"text"},"encoding":{"x":{"datum":9.5,"type":"quantitative"},"y":{"datum":0.147,"type":"quantitative"},"text":{"value":"Log rank χ² = 12.10"}}},
   {"data":{"name":"one"},"mark":{"type":"text","fontStyle":"italic","fontWeight":"bold"},"encoding":{"x":{"datum":9.5,"type":"quantitative"},"y":{"datum":0.067,"type":"quantitative"},"text":{"value":"p"}}},
   {"data":{"name":"one"},"mark":{"type":"text","dx":10},"encoding":{"x":{"datum":9.5,"type":"quantitative"},"y":{"datum":0.067,"type":"quantitative"},"text":{"value":"< 0.001"}}}
  ]}
]}
]
}
